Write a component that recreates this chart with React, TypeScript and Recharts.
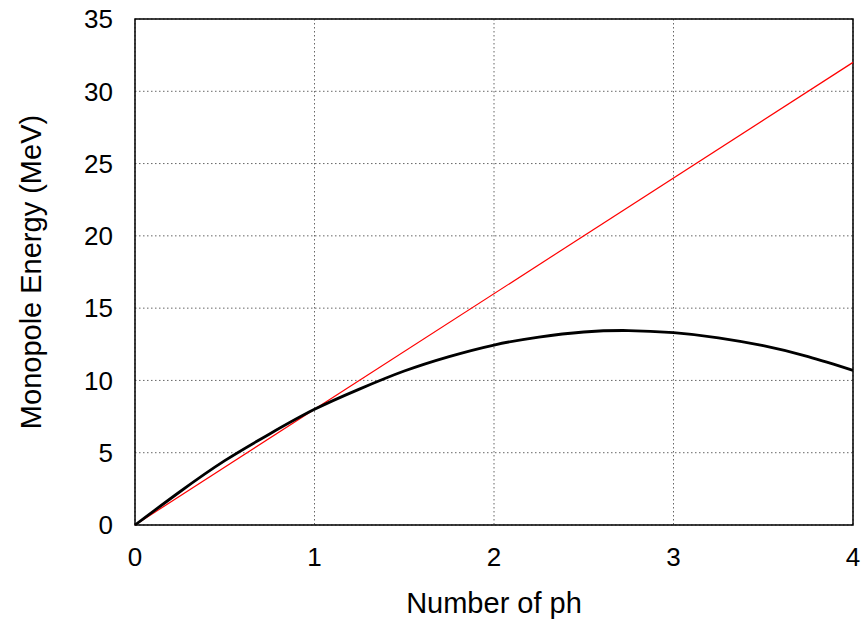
import React from 'react';
import { LineChart, Line, XAxis, YAxis, CartesianGrid, ReferenceArea } from 'recharts';

// number of phonons (x) sampled along the curve
const phNumbers = [0, 0.25, 0.5, 0.75, 1, 1.25, 1.5, 1.75, 2, 2.25, 2.5, 2.75, 3, 3.25, 3.5, 3.75, 4];
// monopole energy (MeV)
const monopoleEnergy = [0, 2.3, 4.45, 6.3, 8.0, 9.4, 10.65, 11.65, 12.45, 13.0, 13.35, 13.45, 13.3, 12.95, 12.4, 11.65, 10.7];
// harmonic (linear) reference, red line
const linearPh = [0, 4];
const linearEnergy = [0, 32];

const xTicks = [0, 1, 2, 3, 4];
const yTicks = [0, 5, 10, 15, 20, 25, 30, 35];

const curveData = phNumbers.map((ph, i) => ({ ph, energy: monopoleEnergy[i] }));
const lineData = linearPh.map((ph, i) => ({ ph, energy: linearEnergy[i] }));

const font = '"Liberation Sans", Arial, sans-serif';

const App: React.FC = () => {
    return (
        <div style={{ position: 'absolute', left: 0, top: 0, width: 866, height: 622, background: '#fff' }}>
            <LineChart width={866} height={622} margin={{ top: 19, right: 13, left: 0, bottom: 0 }}>
                <CartesianGrid stroke="#666" strokeDasharray="1.5 2.5" strokeWidth={1} />
                <XAxis
                    dataKey="ph"
                    type="number"
                    domain={[0, 4]}
                    ticks={xTicks}
                    allowDuplicatedCategory={false}
                    height={97}
                    tickSize={0}
                    tickMargin={23}
                    tickLine={false}
                    axisLine={false}
                    tick={{ fill: '#000', fontSize: 26, fontFamily: font }}
                    label={{ value: 'Number of ph', position: 'insideBottom', offset: 9, fill: '#000', fontSize: 29, fontFamily: font }}
                />
                <YAxis
                    type="number"
                    domain={[0, 35]}
                    ticks={yTicks}
                    width={135}
                    tickSize={0}
                    tickMargin={22}
                    tickLine={false}
                    axisLine={false}
                    tick={{ fill: '#000', fontSize: 26, fontFamily: font }}
                    label={{ value: 'Monopole Energy (MeV)', angle: -90, position: 'insideLeft', offset: 31, style: { textAnchor: 'middle' }, fill: '#000', fontSize: 29, fontFamily: font }}
                />
                <ReferenceArea x1={0} x2={4} y1={0} y2={35} fill="none" stroke="#000" strokeWidth={1.5} />
                <Line data={lineData} dataKey="energy" type="linear" stroke="#ff0000" strokeWidth={1.2} dot={false} isAnimationActive={false} />
                <Line data={curveData} dataKey="energy" type="natural" stroke="#000" strokeWidth={2.8} dot={false} isAnimationActive={false} />
            </LineChart>
        </div>
    );
};

export default App;
